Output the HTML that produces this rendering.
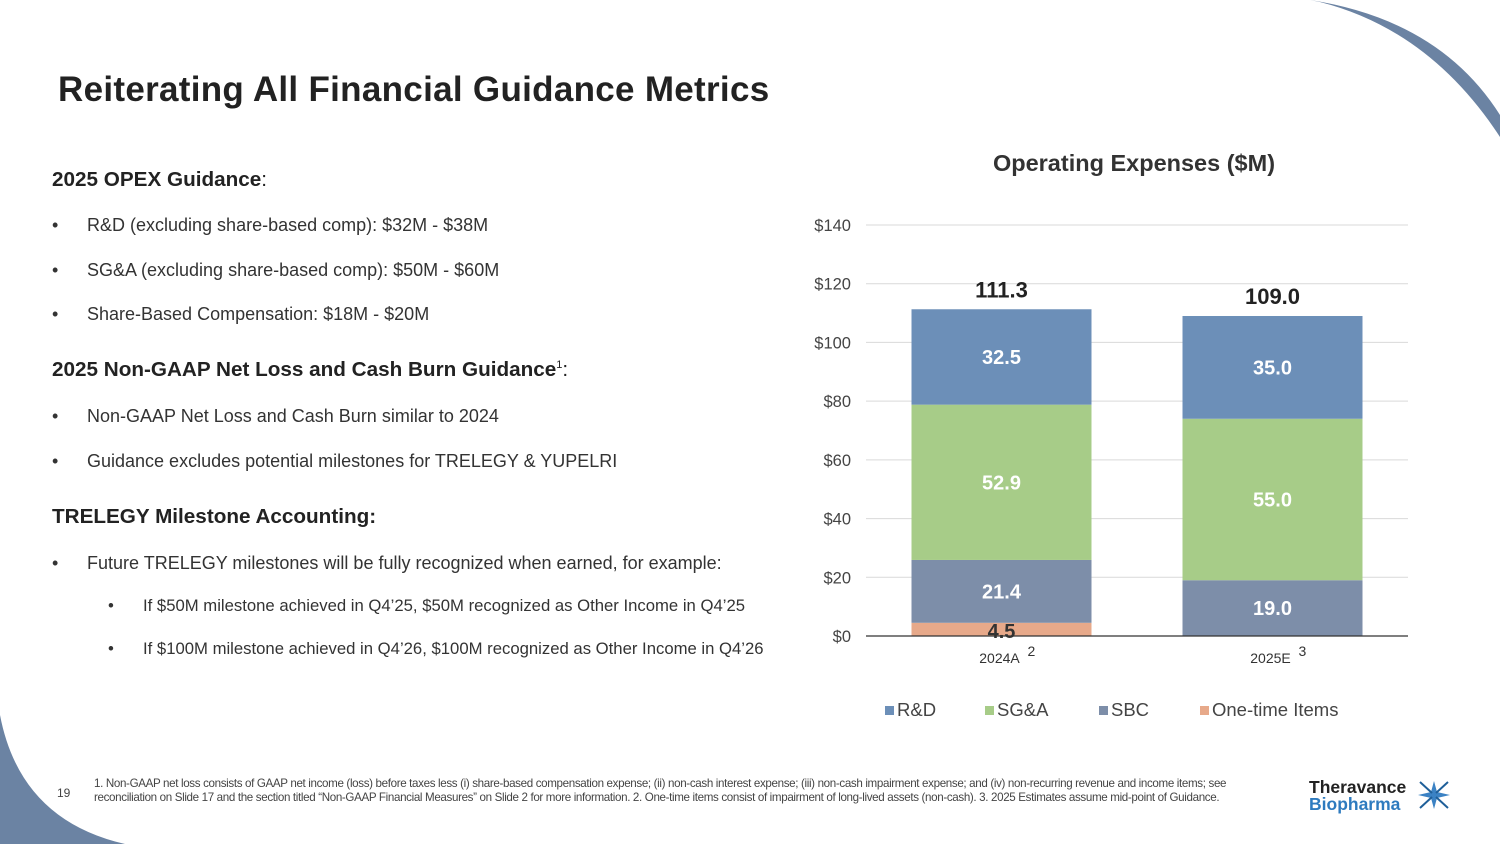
<!DOCTYPE html>
<html><head><meta charset="utf-8"><style>
body{margin:0;width:1500px;height:844px;position:relative;overflow:hidden;background:#fff;font-family:"Liberation Sans",sans-serif;color:#333}
.t{position:absolute;white-space:nowrap}
.h{font-weight:bold;font-size:20.7px;color:#222}
.b{font-size:18px;color:#333}
.bul{position:absolute;left:0}
</style></head><body>
<svg style="position:absolute;left:0;top:0" width="1500" height="844">
<path d="M1310,0 Q1440,20 1500,115 L1500,137 Q1430,30 1320,2 Z" fill="#6b83a3"/>
<path d="M0,715 Q20,820 125,844 L0,844 Z" fill="#6b83a3"/>
</svg>
<div class="t" style="left:58px;top:70px;font-size:35px;font-weight:bold;color:#222;letter-spacing:0.3px">Reiterating All Financial Guidance Metrics</div>

<div class="t h" style="left:52px;top:168px">2025 OPEX Guidance<span style="font-weight:normal">:</span></div>
<div class="t b" style="left:52px;top:215px"><span class="bul">•</span><span style="margin-left:35px">R&amp;D (excluding share-based comp): $32M - $38M</span></div>
<div class="t b" style="left:52px;top:260px"><span class="bul">•</span><span style="margin-left:35px">SG&amp;A (excluding share-based comp): $50M - $60M</span></div>
<div class="t b" style="left:52px;top:304px"><span class="bul">•</span><span style="margin-left:35px">Share-Based Compensation: $18M - $20M</span></div>
<div class="t h" style="left:52px;top:358px">2025 Non-GAAP Net Loss and Cash Burn Guidance<sup style="font-size:11px;font-weight:normal">1</sup><span style="font-weight:normal">:</span></div>
<div class="t b" style="left:52px;top:406px"><span class="bul">•</span><span style="margin-left:35px">Non-GAAP Net Loss and Cash Burn similar to 2024</span></div>
<div class="t b" style="left:52px;top:451px"><span class="bul">•</span><span style="margin-left:35px">Guidance excludes potential milestones for TRELEGY &amp; YUPELRI</span></div>
<div class="t h" style="left:52px;top:505px">TRELEGY Milestone Accounting:</div>
<div class="t b" style="left:52px;top:553px"><span class="bul">•</span><span style="margin-left:35px">Future TRELEGY milestones will be fully recognized when earned, for example:</span></div>
<div class="t" style="left:108px;top:596px;font-size:16.7px"><span class="bul">•</span><span style="margin-left:35px">If $50M milestone achieved in Q4’25, $50M recognized as Other Income in Q4’25</span></div>
<div class="t" style="left:108px;top:639px;font-size:16.7px"><span class="bul">•</span><span style="margin-left:35px">If $100M milestone achieved in Q4’26, $100M recognized as Other Income in Q4’26</span></div>

<svg id="chart" style="position:absolute;left:0;top:0" width="1500" height="844"></svg>

<div class="t" style="left:57px;top:786px;font-size:12px;color:#444">19</div>
<div class="t" style="left:94px;top:777px;font-size:11.6px;line-height:13.5px;color:#444;white-space:normal;width:1145px;letter-spacing:-0.35px">1. Non-GAAP net loss consists of GAAP net income (loss) before taxes less (i) share-based compensation expense; (ii) non-cash interest expense; (iii) non-cash impairment expense; and (iv) non-recurring revenue and income items; see reconciliation on Slide 17 and the section titled “Non-GAAP Financial Measures” on Slide 2 for more information. 2. One-time items consist of impairment of long-lived assets (non-cash). 3. 2025 Estimates assume mid-point of Guidance.</div>
<div class="t" style="left:1309px;top:779px;font-size:17.5px;line-height:16.5px;font-weight:bold">
<div style="color:#222">Theravance</div><div style="color:#2e7bbf">Biopharma</div></div>
<svg style="position:absolute;left:1416px;top:779px" width="36" height="32"><path d="M18,2 L21,13 L34,16 L21,19 L18,30 L15,19 L2,16 L15,13 Z" fill="#3b82c4"/><path d="M4,3 L16,14 M32,3 L20,14 M4,29 L16,18 M32,29 L20,18" stroke="#1f5f99" stroke-width="2"/></svg>

<script>
const categories=["2024A","2025E"];
const catSup=["2","3"];
const rd=[32.5,35.0];
const sga=[52.9,55.0];
const sbc=[21.4,19.0];
const onetime=[4.5,0];
const totals=[111.3,109.0];
const yTicks=[0,20,40,60,80,100,120,140];
const seriesNames=["R&D","SG&A","SBC","One-time Items"];
const colors={rd:"#6c8fb8",sga:"#a7cc88",sbc:"#7d8ea9",ot:"#e7a98a"};
const svg=document.getElementById('chart');
const NS="http://www.w3.org/2000/svg";
const y0=636,yTop=225,vmax=140,x0=866,x1=1408;
const y=v=>y0-(v/vmax)*(y0-yTop);
const band=(x1-x0)/categories.length;
const bw=180;
const bx=i=>x0+band*i+(band-bw)/2;
function mk(tag,attrs,name){const e=document.createElementNS(NS,tag);for(const k in attrs)e.setAttribute(k,attrs[k]);


svg.appendChild(e);return e;}
function txt(x,yy,s,attrs,name){const e=mk('text',Object.assign({x:x,y:yy,'font-family':'Liberation Sans, sans-serif'},attrs),name);e.textContent=s;return e;}
txt(1134,171,"Operating Expenses ($M)",{'font-size':23.5,'font-weight':'bold','fill':'#333','text-anchor':'middle'},'chart-title');
yTicks.forEach(t=>{
 if(t>0)mk('line',{x1:x0,x2:x1,y1:y(t),y2:y(t),stroke:'#d9d9d9','stroke-width':1},'gridline');
 txt(851,y(t)+6,"$"+t,{'font-size':16.5,'fill':'#444','text-anchor':'end'},'y-tick-label');
});
categories.forEach((c,i)=>{
 const segs=[[onetime[i],colors.ot,'#333','bar-onetime'],[sbc[i],colors.sbc,'#fff','bar-sbc'],[sga[i],colors.sga,'#fff','bar-sga'],[rd[i],colors.rd,'#fff','bar-rd']];
 let base=0;
 segs.forEach(s=>{
  if(s[0]<=0)return;
  mk('rect',{x:bx(i),y:y(base+s[0]),width:bw,height:y(base)-y(base+s[0]),fill:s[1]},s[3]);
  const cy=s[3]==='bar-onetime'?y(base)+2:(y(base)+y(base+s[0]))/2+7;
  txt(bx(i)+bw/2,cy,s[0].toFixed(1),{'font-size':20,'font-weight':'bold','fill':s[2],'text-anchor':'middle'},'value-label');
  base+=s[0];
 });
 txt(bx(i)+bw/2,y(totals[i])-12,totals[i].toFixed(1),{'font-size':22,'font-weight':'bold','fill':'#222','text-anchor':'middle'},'total-label');
 txt(bx(i)+bw/2-2,663,c,{'font-size':14,'fill':'#333','text-anchor':'middle'},'x-tick-label');
 txt(bx(i)+bw/2+26,656,catSup[i],{'font-size':14,'fill':'#333'},'x-tick-footnote');
});
mk('line',{x1:x0,x2:x1,y1:y0,y2:y0,stroke:'#333','stroke-width':1.2},'x-axis');
const lx=[885,985,1099,1200];
const lc=[colors.rd,colors.sga,colors.sbc,colors.ot];
seriesNames.forEach((n,i)=>{
 mk('rect',{x:lx[i],y:706,width:9,height:9,fill:lc[i]},'legend-swatch');
 txt(lx[i]+12,716,n,{'font-size':18.5,'fill':'#444'},'legend-entry');
});
</script>
</body></html>
